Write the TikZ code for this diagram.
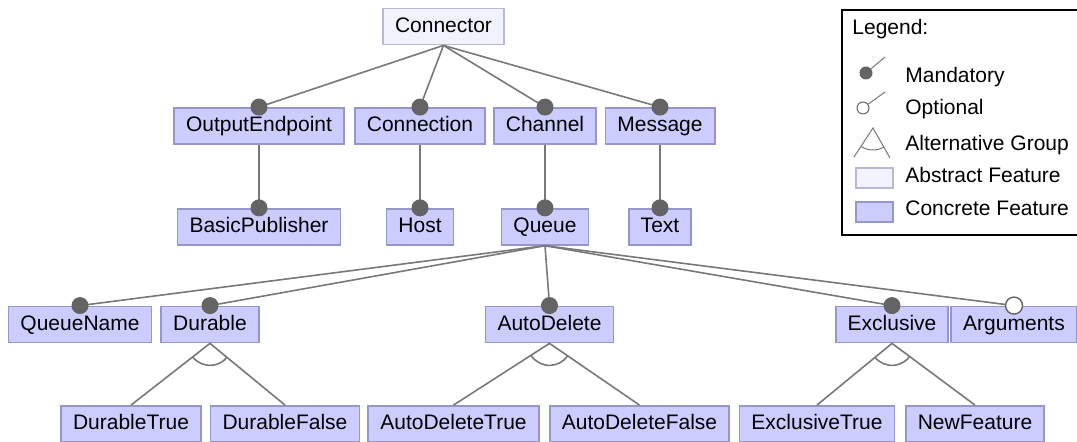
\documentclass[tikz,border=0pt]{standalone}
\usepackage{fontspec}
\setmainfont{Liberation Sans}
\usetikzlibrary{positioning,calc}

\definecolor{concfill}{RGB}{204,204,255}
\definecolor{concdraw}{RGB}{150,150,205}
\definecolor{absfill}{RGB}{242,242,255}
\definecolor{absdraw}{RGB}{185,185,215}
\definecolor{edgegray}{RGB}{120,120,120}
\definecolor{dotgray}{RGB}{100,100,100}

\begin{document}
\begin{tikzpicture}[
  x=0.5pt,y=0.5pt,
  font=\fontsize{10.5}{12}\selectfont,
  node distance=31.5pt,
  feat/.style={rectangle,draw=concdraw,fill=concfill,line width=0.9pt,
               minimum height=18pt,inner xsep=6pt,inner ysep=2pt,
               text height=7.8pt,text depth=2.2pt},
  absfeat/.style={feat,draw=absdraw,fill=absfill},
  edge/.style={draw=edgegray,line width=0.8pt},
  legline/.style={draw=edgegray,line width=0.5pt},
  mand/.style={circle,fill=dotgray,inner sep=0pt,minimum size=8.5pt},
  opt/.style={mand,fill=white,draw=dotgray,line width=0.7pt},
  legtxt/.style={anchor=west,inner sep=0pt,text height=8pt,text depth=2pt},
  legframe/.style={draw=black,line width=0.9pt},
]
\useasboundingbox (0,0) rectangle (1077,442);

% root and first level
\node[absfeat] (conn) at (443.5,415.5) {Connector};
\node[feat] (outep) at (259,316) {OutputEndpoint};
\node[feat] (cnx) at (420,316) {Connection};
\node[feat] (chan) at (545,316) {Channel};
\node[feat] (msg) at (660,316) {Message};

\node[feat,below=of outep] (pub) {BasicPublisher};
\node[feat,below=of cnx] (host) {Host};
\node[feat,below=of chan] (queue) {Queue};
\node[feat,below=of msg] (txt) {Text};

% children of Queue
\node[feat] (qname) at (80,117.5) {QueueName};
\node[feat] (dur) at (210,117.5) {Durable};
\node[feat] (adel) at (549.5,117.5) {AutoDelete};
\node[feat] (excl) at (892,117.5) {Exclusive};
\node[feat] (args) at (1014,117.5) {Arguments};

% alternatives
\node[feat] (durt) at (131,18) {DurableTrue};
\node[feat] (durf) at (285,18) {DurableFalse};
\node[feat] (adelt) at (453.5,18) {AutoDeleteTrue};
\node[feat] (adelf) at (639.5,18) {AutoDeleteFalse};
\node[feat] (exclt) at (817,18) {ExclusiveTrue};
\node[feat] (newf) at (975,18) {NewFeature};

\draw[edge] (conn.south) -- (outep.north) node[mand] {};
\draw[edge] (conn.south) -- (cnx.north) node[mand] {};
\draw[edge] (conn.south) -- (chan.north) node[mand] {};
\draw[edge] (conn.south) -- (msg.north) node[mand] {};
\draw[edge] (outep.south) -- (pub.north) node[mand] {};
\draw[edge] (cnx.south) -- (host.north) node[mand] {};
\draw[edge] (chan.south) -- (queue.north) node[mand] {};
\draw[edge] (msg.south) -- (txt.north) node[mand] {};

\draw[edge] (queue.south) -- (qname.north) node[mand] {};
\draw[edge] (queue.south) -- (dur.north) node[mand] {};
\draw[edge] (queue.south) -- (adel.north) node[mand] {};
\draw[edge] (queue.south) -- (excl.north) node[mand] {};
\draw[edge] (queue.south) -- (args.north) node[opt] {};

% alternative groups
\draw[edge] (durt.north) -- (dur.south) -- (durf.north);
\draw[edge] (adelt.north) -- (adel.south) -- (adelf.north);
\draw[edge] (exclt.north) -- (excl.south) -- (newf.north);
\draw[edge] let \p1=($(durt.north)-(dur.south)$), \p2=($(durf.north)-(dur.south)$),
  \n1={atan2(\y1,\x1)}, \n2={atan2(\y2,\x2)} in
  ($(dur.south)+(\n1:11pt)$) arc[start angle=\n1,end angle=\n2,radius=11pt];
\draw[edge] let \p1=($(adelt.north)-(adel.south)$), \p2=($(adelf.north)-(adel.south)$),
  \n1={atan2(\y1,\x1)}, \n2={atan2(\y2,\x2)} in
  ($(adel.south)+(\n1:11pt)$) arc[start angle=\n1,end angle=\n2,radius=11pt];
\draw[edge] let \p1=($(exclt.north)-(excl.south)$), \p2=($(newf.north)-(excl.south)$),
  \n1={atan2(\y1,\x1)}, \n2={atan2(\y2,\x2)} in
  ($(excl.south)+(\n1:11pt)$) arc[start angle=\n1,end angle=\n2,radius=11pt];

% legend (open on the right, runs off the picture)
\draw[legframe] (1077,432) -- (842,432) -- (842,207) -- (1077,207);
\node[legtxt] (lghead) at (852,413) {Legend:};
\node[legtxt] (lgmand) at (905,365) {Mandatory};
\node[legtxt] (lgopt) at (905,333) {Optional};
\node[legtxt] (lgalt) at (905,297) {Alternative Group};
\node[legtxt] (lgabs) at (905,265) {Abstract Feature};
\node[legtxt] (lgcon) at (905,232) {Concrete Feature};

\node[mand,minimum size=6.5pt] (lgdot) at (866,369) {};
\coordinate (lgdottip) at (885,385);
\draw[legline] (lgdot) -- (lgdottip);
\node[opt,minimum size=6pt,line width=0.5pt] (lgcirc) at (863,334) {};
\coordinate (lgcirctip) at (885,350);
\draw[legline] (lgcirc) -- (lgcirctip);

\coordinate (lgapex) at (873,314);
\coordinate (lgleft) at (854,285);
\coordinate (lgright) at (890,284);
\draw[legline] (lgleft) -- (lgapex) -- (lgright);
\draw[legline] let \p1=($(lgleft)-(lgapex)$), \p2=($(lgright)-(lgapex)$),
  \n1={atan2(\y1,\x1)}, \n2={atan2(\y2,\x2)} in
  ($(lgapex)+(\n1:11pt)$) arc[start angle=\n1,end angle=\n2,radius=11pt];

\node[absfeat,minimum width=18.5pt,minimum height=10pt,inner sep=0pt,line width=0.6pt,
      text height=0pt,text depth=0pt] (lgabsbox) at (874.5,264) {};
\node[feat,minimum width=18.5pt,minimum height=10pt,inner sep=0pt,line width=0.6pt,
      text height=0pt,text depth=0pt] (lgconbox) at (874.5,230) {};
\end{tikzpicture}
\end{document}
